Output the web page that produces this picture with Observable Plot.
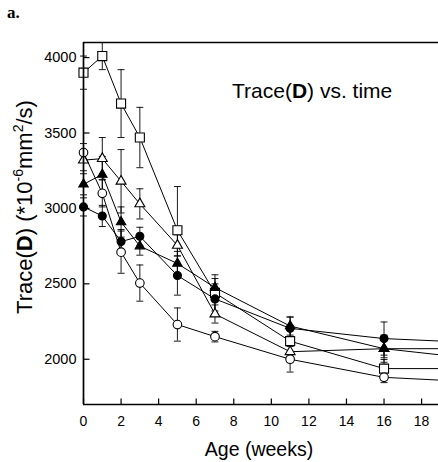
<!DOCTYPE html>
<html><head><meta charset="utf-8">
<script src="https://cdn.jsdelivr.net/npm/d3@7"></script>
<script src="https://cdn.jsdelivr.net/npm/@observablehq/plot@0.6"></script>
<style>
body{margin:0;background:#fff}
#chart svg{display:block}
</style>
</head><body><div id="chart"></div>
<script>
// Age in weeks (last value lies beyond the visible range; its lines are clipped at the frame)
const weeks = [0, 1, 2, 3, 5, 7, 11, 16, 20];

// Trace(D) means, *10^-6 mm^2/s
const openSquare     = [3900, 4010, 3695, 3470, 2855, 2440, 2120, 1938, 1938];
const openCircle     = [3370, 3100, 2710, 2505, 2230, 2150, 2000, 1880, 1855];
const openTriangle   = [3320, 3330, 3180, 3030, 2755, 2300, 2050, 2070, 2070];
const filledTriangle = [3160, 3225, 2910, 2750, 2635, 2475, 2220, 2070, 2015];
const filledCircle   = [3010, 2950, 2780, 2815, 2555, 2400, 2205, 2137, 2115];

// error bar half-lengths
const openSquareErr     = [110,  90, 225, 200, 290, 120,  80,  60, null];
const openCircleErr     = [ 60,  90, 140, 120, 110,  35,  85,  35, null];
const openTriangleErr   = [ 70, 140, 210, 100,  70,  60,  60,  60, null];
const filledTriangleErr = [ 70, 120, 100,  60,  80,  60,  60,  90, null];
const filledCircleErr   = [ 60,  70,  80,  60, 130, 100,  75, 110, null];

const xTicks = [0, 2, 4, 6, 8, 10, 12, 14, 16, 18];
const yTicks = [2000, 2500, 3000, 3500, 4000];

const seriesList = [
  {key: "openSquare", values: openSquare, err: openSquareErr},
  {key: "openTriangle", values: openTriangle, err: openTriangleErr},
  {key: "filledTriangle", values: filledTriangle, err: filledTriangleErr},
  {key: "filledCircle", values: filledCircle, err: filledCircleErr},
  {key: "openCircle", values: openCircle, err: openCircleErr}
];
const markerStyle = {
  openSquare:     {symbol: "square",   fill: "white", r: 5.1},
  openCircle:     {symbol: "circle",   fill: "white", r: 4.3},
  openTriangle:   {symbol: "triangle", fill: "white", r: 3.7},
  filledTriangle: {symbol: "triangle", fill: "black", r: 3.5},
  filledCircle:   {symbol: "circle",   fill: "black", r: 4.0}
};

const rows = seriesList.flatMap(s => weeks.map((w, i) => ({series: s.key, week: w, value: s.values[i], err: s.err[i]})));
const shown = rows.filter(d => d.err != null);

const capSymbol = {draw(ctx) { ctx.moveTo(-3.5, 0); ctx.lineTo(3.5, 0); }};
const yTickSymbol = {draw(ctx) { ctx.moveTo(0, 0); ctx.lineTo(6, 0); }};
const xTickSymbol = {draw(ctx) { ctx.moveTo(0, 0); ctx.lineTo(0, -6); }};

const fam = "'Liberation Sans', Arial, sans-serif";

const chart = Plot.plot({
  width: 438,
  height: 462,
  marginLeft: 83,
  marginRight: 0,
  marginTop: 42,
  marginBottom: 58,
  style: {fontFamily: fam, fontSize: "14px", color: "black", background: "white"},
  x: {domain: [0, 18.9]},
  y: {domain: [1700, 4100]},
  marks: [
    Plot.ruleX(shown, {x: "week", y1: d => d.value - d.err, y2: d => d.value + d.err, stroke: "black", strokeWidth: 0.9}),
    Plot.dot(shown, {x: "week", y: d => d.value + d.err, symbol: capSymbol, fill: "none", stroke: "black", strokeWidth: 0.9}),
    Plot.dot(shown, {x: "week", y: d => d.value - d.err, symbol: capSymbol, fill: "none", stroke: "black", strokeWidth: 0.9}),
    ...seriesList.map(s => Plot.line(rows.filter(r => r.series === s.key), {x: "week", y: "value", stroke: "black", strokeWidth: 1, clip: true})),
    ...seriesList.map(s => Plot.dot(shown.filter(r => r.series === s.key), {
      x: "week", y: "value",
      symbol: markerStyle[s.key].symbol, r: markerStyle[s.key].r,
      fill: markerStyle[s.key].fill, stroke: "black", strokeWidth: 1.1
    })),
    Plot.ruleX([0], {stroke: "black", strokeWidth: 1.7}),
    Plot.ruleY([1700], {stroke: "black", strokeWidth: 1.4}),
    Plot.ruleY([4100], {stroke: "black", strokeWidth: 1.4}),
    Plot.dot(yTicks, {x: 0, y: d => d, symbol: yTickSymbol, fill: "none", stroke: "black", strokeWidth: 1.2}),
    Plot.dot(xTicks, {x: d => d, y: 1700, symbol: xTickSymbol, fill: "none", stroke: "black", strokeWidth: 1.2}),
    Plot.axisX({ticks: xTicks, tickSize: 0, tickPadding: 12, label: null, fontSize: 14, fontFamily: fam, tickFormat: d => String(d)}),
    Plot.axisY({ticks: yTicks, tickSize: 0, tickPadding: 7, label: null, fontSize: 14.5, fontFamily: fam, tickFormat: d => String(d)})
  ]
});

document.getElementById("chart").appendChild(chart);

const svg = d3.select(chart);

// panel letter
svg.append("text").attr("x", 7).attr("y", 18).attr("text-anchor", "start")
  .attr("font-family", "'Liberation Serif', 'DejaVu Serif', serif")
  .attr("font-weight", "bold").attr("font-size", 17).attr("fill", "black").text("a.");

// in-plot title
const t = svg.append("text").attr("x", 232).attr("y", 98).attr("text-anchor", "start")
  .attr("font-family", fam).attr("font-size", 21).attr("fill", "black");
t.append("tspan").text("Trace(");
t.append("tspan").attr("font-weight", "bold").text("D");
t.append("tspan").text(") vs. time");

// x title
svg.append("text").attr("x", 259).attr("y", 456).attr("text-anchor", "middle")
  .attr("font-family", fam).attr("font-size", 19.5).attr("fill", "black").text("Age (weeks)");

// y title
const yt = svg.append("text").attr("transform", "translate(32,207) rotate(-90)")
  .attr("text-anchor", "middle").attr("font-family", fam).attr("font-size", 22).attr("fill", "black");
yt.append("tspan").text("Trace(");
yt.append("tspan").attr("font-weight", "bold").text("D");
yt.append("tspan").text(") (*10");
yt.append("tspan").attr("dy", -9).attr("font-size", 14).text("-6");
yt.append("tspan").attr("dy", 9).text("mm");
yt.append("tspan").attr("dy", -9).attr("font-size", 14).text("2");
yt.append("tspan").attr("dy", 9).text("/s)");
</script>
</body></html>
